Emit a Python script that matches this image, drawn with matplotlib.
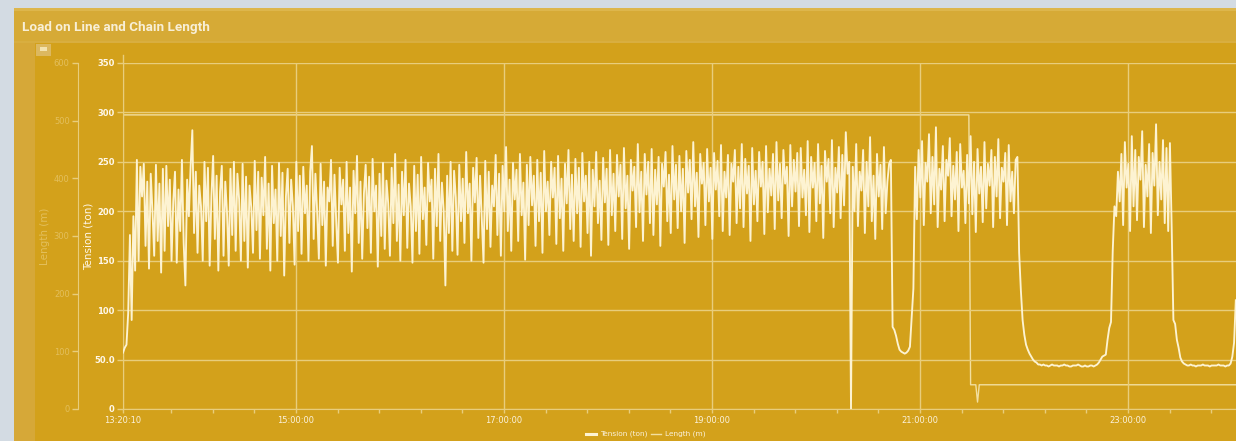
import numpy as np
import pandas as pd
import matplotlib
matplotlib.use("Agg")
import matplotlib.pyplot as plt
from matplotlib.patches import Rectangle
from matplotlib.lines import Line2D

# tension (ton), one sample per minute from 13:20:10
tension = [
    57, 62, 65, 97, 176, 90, 195, 140, 252,
    150, 245, 215, 248, 165, 230, 142, 238, 200, 155, 247, 170, 228, 138, 243, 160, 246, 185, 232, 150,
    210, 240, 148, 222, 180, 252, 168, 125, 232, 195, 245, 282, 178, 240, 158, 226, 205, 150, 250, 190,
    244, 145, 215, 256, 172, 236, 140, 220, 246, 155, 230, 199, 145, 243, 176, 250, 160, 238, 212, 150,
    248, 170, 235, 143, 226, 204, 158, 251, 181, 240, 152,
    234, 196, 255, 162, 228, 140, 246, 188, 222, 150, 249, 175, 239, 135, 215, 243, 168, 232, 205, 146,
    250, 180, 236, 157, 245, 198, 226, 150, 240, 266, 172, 238, 200, 152, 248, 186, 230, 145, 224, 210,
    252, 165, 237, 190, 148, 244, 207, 232, 160, 250, 178, 224, 139, 241, 198, 256, 168, 230, 152, 218,
    247, 183, 235, 158, 253, 200, 226, 144, 238, 175, 249, 162, 231, 208, 155, 244, 188, 258, 170, 227, 150,
    240, 196, 252, 163, 228, 205, 148, 246, 180, 237, 157, 255, 192, 224, 166, 249, 210, 232, 152, 243,
    185, 258, 170, 229, 201, 125, 236, 178, 250, 160, 241, 214, 156, 247, 190, 233, 168, 260, 198, 228,
    150, 244, 209, 254, 173, 236, 192, 148, 251, 182, 240, 164, 226, 205, 257, 176, 238, 155, 246, 200,
    265, 180, 232, 160, 249, 212, 242, 170, 258, 196, 229, 151, 247, 186, 255, 206, 236, 165, 252, 190,
    239, 158, 261, 200, 230, 176, 250, 214, 244, 167, 256, 193, 233, 160, 248, 208, 262, 182, 237, 170,
    253, 198, 244, 164, 259, 210, 236, 178, 250, 155, 242, 205, 260, 188, 231,
    171, 254, 209, 243, 166, 262, 196, 238, 180, 257, 215, 247, 172, 264, 203, 236, 162, 252, 221, 245,
    184, 268, 199, 240, 170, 258, 217, 250, 188, 263, 176, 242, 207, 255, 165, 248, 225, 260, 190, 237,
    178, 266, 212, 247, 183, 256, 200, 243, 168, 261, 219, 252, 192, 270, 205, 239, 174, 258, 228, 249,
    186, 263, 210, 244, 172, 259, 222, 251, 195, 267, 180, 240, 214, 257, 176, 248, 230, 262, 188, 245,
    203, 268, 184, 253, 218, 246, 170, 264, 207, 241, 190, 260, 225, 250, 177, 266, 199, 243, 216, 258,
    182, 270, 211, 248, 193, 262, 228, 245, 175, 267, 205, 252, 220, 259, 185, 264, 214, 242, 196, 271,
    179, 255, 224, 249, 190, 268, 208, 246, 173, 261, 230, 253, 198, 272, 184, 244, 219, 265, 193, 257,
    206, 280, 238, 250,
    0,
    245, 200, 268, 185, 240, 221, 262, 178, 250, 205, 275, 190, 236, 172, 258, 215, 247, 182, 265, 198,
    230, 248, 252,
    83, 80, 74, 66, 60, 58, 57, 56, 57, 59, 63, 92, 122, 245,
    192, 262, 214, 271, 186, 249, 230, 278, 198, 255, 207, 285, 184, 243, 222, 266, 190, 252, 236, 274,
    195, 246, 212, 260, 180, 268, 224, 241, 188, 257, 208, 276, 197, 250, 179, 263, 218, 245, 189, 270,
    203, 248, 226, 262, 184, 255, 215, 273, 193, 244, 230, 259, 186, 267, 210, 240, 198, 252, 255,
    158, 120, 90, 75, 65, 60, 56, 53, 50, 48, 47, 45, 45,
    44, 45, 44, 44, 43, 44, 45, 44, 44, 44, 43, 44, 44, 45, 44, 44, 43, 43, 44, 44,
    44, 45, 44, 43, 43, 44, 43, 43, 44, 44, 43, 44,
    45, 47, 50, 53, 54, 55, 70, 82, 88, 160, 205, 195, 240,
    210, 258, 186, 270, 224, 248, 180, 276, 205, 262, 191, 255, 232, 281, 184, 247, 215, 268, 178, 259,
    226, 288, 196, 250, 212, 272, 188, 264, 180, 269,
    184, 90, 86, 70, 62, 52, 48, 46, 45,
    44, 44, 45, 44, 44, 43, 44, 44, 44, 45, 44, 44, 44, 43, 44, 44, 44, 44, 45, 44, 44, 44, 43, 44, 44,
    46, 53, 67, 110,
]

# chain length (m): (start sample, value)
length_steps = [(0, 510), (489, 42), (493, 12), (494, 42)]

tension_ticks = [0, 50, 100, 150, 200, 250, 300, 350]
tension_labels = ["0", "50.0", "100", "150", "200", "250", "300", "350"]
length_ticks = [0, 100, 200, 300, 400, 500, 600]
hour_ticks = ["15:00", "17:00", "19:00", "21:00", "23:00"]

start = pd.Timestamp("2020-01-01 13:20:10")
times = start + pd.to_timedelta(np.arange(len(tension)), unit="min")
length = np.zeros(len(tension))
for i, (s, v) in enumerate(length_steps):
    e = length_steps[i + 1][0] if i + 1 < len(length_steps) else len(tension)
    length[s:e] = v

GOLD = "#d3a11b"
BAR = "#d6aa36"
OUTER = "#d3dbe3"
GRID = "#e8cd7c"
LINE = "#fdf3d2"
FAINT = "#e3bf5c"

W, H = 1236, 441
fig = plt.figure(figsize=(W / 100, H / 100), dpi=100, facecolor=OUTER)


def box(x0, y0, x1, y1, color, z=-10):
    fig.add_artist(Rectangle((x0 / W, 1 - y1 / H), (x1 - x0) / W, (y1 - y0) / H,
                             transform=fig.transFigure, color=color, zorder=z, lw=0))


box(14, 8, W + 5, H + 5, GOLD)
box(14, 8, W + 5, 42, BAR)
box(14, 8, W + 5, 11, "#ddb64c", -9)
box(14, 41, W + 5, 43, "#d8ae40", -9)
box(14, 43, 35, H + 5, "#d6a838")
box(36, 44, 51, 56, "#dcb860", -9)
box(40, 47, 47, 51, "#f3e3b0", -8)
fig.text(22 / W, 1 - 28 / H, "Load on Line and Chain Length", color="#f8efd6",
         fontsize=9.7, fontweight="bold", family="Roboto", va="center", ha="left")

left, right, top, bottom = 123, 1236, 63, 409
ax = fig.add_axes([left / W, 1 - bottom / H, (right - left) / W, (bottom - top) / H])
ax.set_facecolor("none")
x_end = start + pd.Timedelta(hours=(right - left) / 104)
ax.set_xlim(start, x_end)
ax.set_ylim(0, 350)

ax2 = ax.twinx()
ax2.set_ylim(0, 600)
ax2.plot(times, length, color="#f2dfa0", lw=1.0, zorder=2)
ax.plot(times, tension, color=LINE, lw=1.35, zorder=3)
ax.set_zorder(ax2.get_zorder() + 1)

day = start.normalize()
majors = [start] + [day + pd.Timedelta(h + ":00") for h in hour_ticks]
ax.set_xticks(majors)
ax.set_xticklabels([m.strftime("%H:%M:%S") for m in majors])
minors = pd.date_range(day + pd.Timedelta("13:48:00"), x_end, freq="24min")
ax.set_xticks(minors, minor=True)
ax.tick_params(axis="x", which="both", colors=GRID, length=3, width=1, labelsize=6,
               labelcolor="#fbf2dc", pad=2)
ax.set_yticks(tension_ticks)
ax.set_yticklabels(tension_labels)
ax.tick_params(axis="y", colors=GRID, length=4, width=1, labelsize=6,
               labelcolor="#fff8ea", pad=2)
for lab in ax.get_yticklabels():
    lab.set_fontweight("bold")
ax.grid(True, axis="both", color=GRID, lw=1)
ax.set_axisbelow(True)
for s in ["top", "right"]:
    ax.spines[s].set_visible(False)
for s in ["left", "bottom"]:
    ax.spines[s].set_color(GRID)
ax.plot([start, start], [350, 358], color=GRID, lw=1, clip_on=False)
ax.set_ylabel("Tension (ton)", color="#fff8ea", fontsize=7.5)
ax.yaxis.set_label_coords((94 - left) / (right - left), 0.5)

ax2.set_facecolor("none")
ax2.yaxis.tick_left()
ax2.yaxis.set_label_position("left")
ax2.spines["left"].set_position(("outward", (left - 78) * 0.72))
ax2.spines["left"].set_color(GRID)
for s in ["top", "right", "bottom"]:
    ax2.spines[s].set_visible(False)
ax2.set_yticks(length_ticks)
ax2.tick_params(axis="y", colors=GRID, length=4, width=1, labelsize=6, labelcolor=FAINT, pad=2)
ax2.set_ylabel("Length (m)", color=FAINT, fontsize=7.5)
ax2.yaxis.set_label_coords((50 - left) / (right - left), 0.5)

# legend
ly = 1 - 434 / H
fig.add_artist(Line2D([586 / W, 596 / W], [ly, ly], color=LINE, lw=2.2, transform=fig.transFigure))
fig.text(600 / W, ly, "Tension (ton)", color="#fbf2dc", fontsize=5.3, va="center")
fig.add_artist(Line2D([651 / W, 661 / W], [ly, ly], color="#f2dfa0", lw=1, transform=fig.transFigure))
fig.text(665 / W, ly, "Length (m)", color="#fbf2dc", fontsize=5.3, va="center")

fig.savefig("out.png", dpi=100, facecolor=OUTER)
